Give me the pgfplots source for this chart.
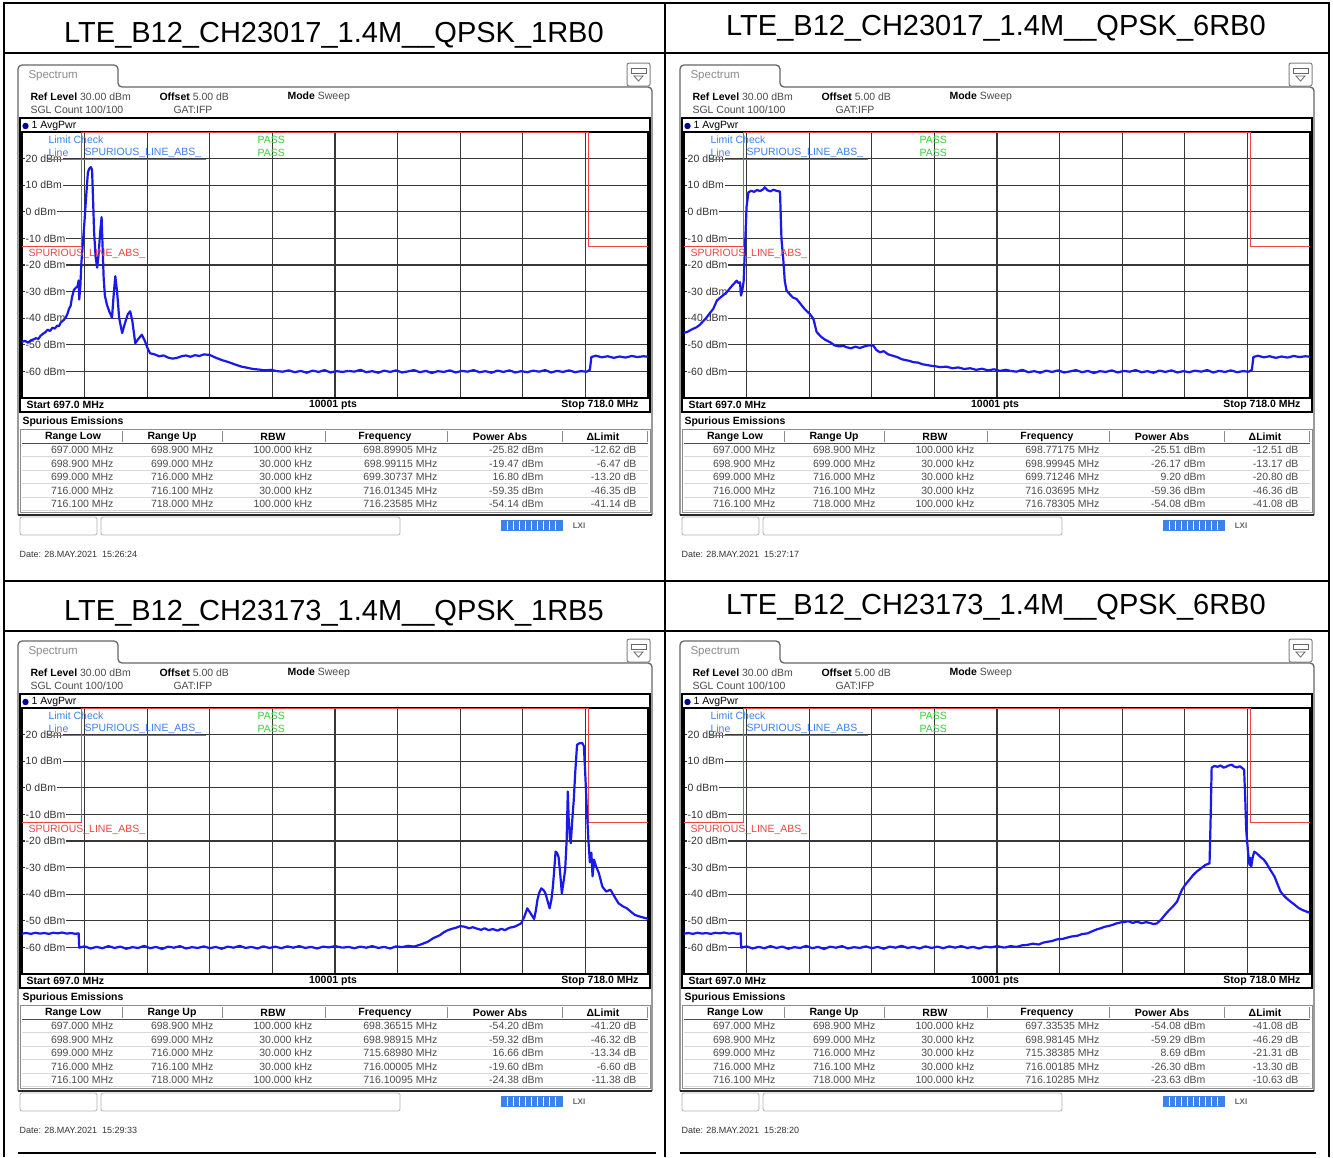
\documentclass[border=0pt]{standalone}
\usepackage{fontspec}
\setmainfont{Liberation Sans}
\usepackage{pgfplots}
\usepackage{pgfplotstable}
\pgfplotsset{compat=1.18}

\definecolor{trace}{RGB}{25,25,235}
\definecolor{lim}{RGB}{235,70,70}
\definecolor{lblue}{RGB}{60,130,235}
\definecolor{pgreen}{RGB}{60,205,60}
\definecolor{gridc}{RGB}{55,55,55}
\definecolor{txt}{RGB}{75,75,75}

\newcommand\ttl{\fontsize{29}{32}\selectfont}
\newcommand\sm{\fontsize{10.5}{12}\selectfont}
\newcommand\smb{\fontsize{10.5}{12}\selectfont\bfseries}
\newcommand\dt{\fontsize{9}{10}\selectfont}

\pgfplotstableread{
f p
697.00 -54.8
697.15 -54.6
697.30 -54.9
697.45 -54.5
697.60 -54.8
697.75 -54.6
697.90 -54.9
698.05 -54.5
698.20 -54.7
698.35 -54.4
698.50 -54.8
698.65 -54.6
698.80 -54.9
698.90 -54.7
698.92 -60.1
699.10 -59.6
699.30 -60.4
699.50 -59.8
699.70 -60.3
699.90 -59.5
700.10 -60.2
700.30 -59.7
700.50 -60.5
700.70 -59.9
700.90 -60.2
701.10 -59.4
701.30 -60.3
701.50 -59.8
701.70 -60.6
701.90 -59.7
702.10 -60.1
702.30 -59.5
702.50 -60.4
702.70 -59.9
702.90 -60.2
703.10 -59.6
703.30 -60.3
703.50 -59.8
703.70 -60.5
703.90 -59.7
704.10 -60.1
704.30 -59.4
704.50 -60.2
704.70 -59.8
704.90 -60.4
705.10 -59.6
705.30 -60.2
705.50 -59.7
705.70 -60.3
705.90 -59.6
706.10 -60.1
706.30 -59.5
706.50 -60.2
706.70 -59.8
706.90 -60.4
707.10 -59.7
707.30 -60.0
707.50 -59.5
707.75 -60.1
}\noiseLo

\pgfplotstableread{
f p
707.95 -59.8
708.15 -60.1
708.35 -59.4
708.55 -60.3
708.75 -59.9
708.95 -60.5
709.15 -59.7
709.35 -60.2
709.55 -59.6
709.75 -60.4
709.95 -60.0
710.15 -59.5
710.35 -60.3
710.55 -59.8
710.75 -60.6
710.95 -59.9
711.15 -60.2
711.35 -59.6
711.55 -60.4
711.75 -59.8
711.95 -60.1
712.15 -59.5
712.35 -60.3
712.55 -59.9
712.75 -60.5
712.95 -59.7
713.15 -60.2
713.35 -59.6
713.55 -60.4
713.75 -59.9
713.95 -60.3
714.15 -59.7
714.35 -60.1
714.55 -59.5
714.75 -60.4
714.95 -59.8
715.15 -60.2
715.35 -59.6
715.55 -60.3
715.75 -59.9
715.95 -60.1
716.05 -59.4
716.10 -54.6
716.25 -54.1
716.45 -54.7
716.65 -54.3
716.85 -54.9
717.05 -54.4
717.25 -54.8
717.45 -54.2
717.65 -54.6
717.85 -54.3
718.00 -54.5
}\noiseHi

\pgfplotsset{spec/.style={
  scale only axis, width=626pt, height=266pt, anchor=north west,
  xmin=697, xmax=718, ymin=-70, ymax=30,
  xtick={699.1,701.2,703.3,705.4,707.5,709.6,711.7,713.8,715.9},
  ytick={-60,-50,-40,-30,-20,-10,0,10,20},
  xticklabels={}, yticklabels={}, major tick length=0pt,
  grid=major, major grid style={gridc, line width=1.3pt},
  axis line style={black, line width=1.3pt},
}}
\pgfplotsset{tr/.style={trace, line width=2.2pt, line join=round, no markers}}

\newcommand\trow[7]{%
  \node[anchor=east,font=\sm,text=txt] at (117,#1) {#2};
  \node[anchor=east,font=\sm,text=txt] at (217,#1) {#3};
  \node[anchor=east,font=\sm,text=txt] at (316,#1) {#4};
  \node[anchor=east,font=\sm,text=txt] at (441,#1) {#5};
  \node[anchor=east,font=\sm,text=txt] at (547,#1) {#6};
  \node[anchor=east,font=\sm,text=txt] at (640,#1) {#7};
  \draw[black!15, line width=0.8pt] (22,#1+6.7) -- (648,#1+6.7);
}

\newcommand\panel[6]{%
\begin{scope}[shift={(#1,#2)}]
  \node[font=\ttl] at (334,#4) {#3};
  \draw[line width=1.3pt, black!60, rounded corners=4pt] (18,515) -- (18,65) -- (118,65) -- (118,87) -- (652,87) -- (652,515);
  \draw[line width=2.2pt, black!85] (18,515) -- (652,515);
  \draw[black!50, rounded corners=2pt, line width=1pt] (627,63) rectangle (650,86);
  \draw[black!60, line width=0.8pt] (631,68) rectangle (646,73);
  \draw[black!60, line width=0.8pt] (634,76) -- (643,76) -- (638.5,81) -- cycle;
  \node[anchor=west, font=\fontsize{11.5}{13}\selectfont, text=black!45] at (25,76) {Spectrum};
  \node[anchor=west, font=\sm] at (27,97) {\textbf{Ref Level} \textcolor{txt}{30.00 dBm}};
  \node[anchor=west, font=\sm] at (156,97) {\textbf{Offset} \textcolor{txt}{5.00 dB}};
  \node[anchor=west, font=\sm] at (284,97) {\textbf{Mode} \textcolor{txt}{Sweep}};
  \node[anchor=west, font=\sm, text=txt] at (27,110) {SGL Count 100/100};
  \node[anchor=west, font=\sm, text=txt] at (170,110) {GAT:IFP};
  \draw[line width=2pt] (20,118) rectangle (650,412);
  \fill[blue!60!black] (25.5,126) circle (3.2);
  \node[anchor=west, font=\sm] at (28,126) {1 AvgPwr};
  \node[anchor=west, font=\smb] at (23,405) {Start 697.0 MHz};
  \node[font=\smb] at (333,405) {10001 pts};
  \node[anchor=east, font=\smb] at (642,405) {Stop 718.0 MHz};
  \node[anchor=west, font=\smb] at (19,422) {Spurious Emissions};
  \draw[black!45, line width=1pt] (20,429) rectangle (650,512);
  \node[font=\smb] at (73,437) {Range Low};
  \node[font=\smb] at (172,437) {Range Up};
  \node[font=\smb] at (273,437) {RBW};
  \node[font=\smb] at (385,437) {Frequency};
  \node[font=\smb] at (500,437) {Power Abs};
  \node[font=\smb] at (603,437) {ΔLimit};
  \draw[black!70, line width=1.3pt] (22,443.5) -- (648,443.5);
  \foreach \xx in {122,222,325,447,562,647}{\draw[black!45, line width=0.8pt] (\xx,431) -- (\xx,442);}
  #6
  \draw[black!30, rounded corners=2pt, line width=0.8pt] (20,517) rectangle (97,535);
  \draw[black!30, rounded corners=2pt, line width=0.8pt] (101,517) rectangle (400,535);
  \fill[lblue] (501,520) rectangle (563,531);
  \foreach \xx in {507,513,...,559}{\draw[white, line width=0.7pt] (\xx,521) -- (\xx,530);}
  \node[font=\fontsize{8}{9}\selectfont\bfseries, text=black!60] at (579,526) {LXI};
  \node[anchor=west, font=\dt, text=black!80] at (16,554) {Date: 28.MAY.2021\ \ #5};
\end{scope}}

\newcommand\ovl[2]{%
\begin{scope}[shift={(#1,#2)}]
  \node[anchor=west,font=\sm,text=lblue] at (45,140) {Limit Check};
  \node[anchor=west,font=\sm,text=lblue] at (45,153) {Line};
  \node[anchor=west,font=\sm,text=lblue] at (81,153) {SPURIOUS\_LINE\_ABS\_};
  \draw[lblue, line width=0.8pt] (47,159.5) -- (206,159.5);
  \node[anchor=west,font=\sm,text=pgreen] at (254,140) {PASS};
  \node[anchor=west,font=\sm,text=pgreen] at (254,153) {PASS};
  \node[anchor=west,font=\sm,text=lim] at (25,254) {SPURIOUS\_LINE\_ABS\_};
\end{scope}}

\begin{document}
\begin{tikzpicture}[x=1pt,y=-1pt]
\useasboundingbox (0,0) rectangle (1333,1157);
\fill[white] (0,0) rectangle (1333,1157);

% outer table lines
\draw[line width=2pt] (3,3) -- (1330,3);
\draw[line width=2pt] (3,53) -- (1330,53);
\draw[line width=2pt] (3,581) -- (1330,581);
\draw[line width=2pt] (3,631) -- (1330,631);
\draw[line width=2pt] (4,3) -- (4,1157);
\draw[line width=2pt] (665,3) -- (665,1157);
\draw[line width=2pt] (1329,3) -- (1329,1157);
\draw[line width=2pt] (18,1153) -- (656,1153);
\draw[line width=2pt] (680,1153) -- (1316,1153);

\panel{0}{0}{LTE\_B12\_CH23017\_1.4M\_\_QPSK\_1RB0}{35}{15:26:24}{%
  \trow{450}{697.000 MHz}{698.900 MHz}{100.000 kHz}{698.89905 MHz}{-25.82 dBm}{-12.62 dB}
  \trow{464}{698.900 MHz}{699.000 MHz}{30.000 kHz}{698.99115 MHz}{-19.47 dBm}{-6.47 dB}
  \trow{477}{699.000 MHz}{716.000 MHz}{30.000 kHz}{699.30737 MHz}{16.80 dBm}{-13.20 dB}
  \trow{491}{716.000 MHz}{716.100 MHz}{30.000 kHz}{716.01345 MHz}{-59.35 dBm}{-46.35 dB}
  \trow{504}{716.100 MHz}{718.000 MHz}{100.000 kHz}{716.23585 MHz}{-54.14 dBm}{-41.14 dB}}
\panel{662}{0}{LTE\_B12\_CH23017\_1.4M\_\_QPSK\_6RB0}{28}{15:27:17}{%
  \trow{450}{697.000 MHz}{698.900 MHz}{100.000 kHz}{698.77175 MHz}{-25.51 dBm}{-12.51 dB}
  \trow{464}{698.900 MHz}{699.000 MHz}{30.000 kHz}{698.99945 MHz}{-26.17 dBm}{-13.17 dB}
  \trow{477}{699.000 MHz}{716.000 MHz}{30.000 kHz}{699.71246 MHz}{9.20 dBm}{-20.80 dB}
  \trow{491}{716.000 MHz}{716.100 MHz}{30.000 kHz}{716.03695 MHz}{-59.36 dBm}{-46.36 dB}
  \trow{504}{716.100 MHz}{718.000 MHz}{100.000 kHz}{716.78305 MHz}{-54.08 dBm}{-41.08 dB}}
\panel{0}{576}{LTE\_B12\_CH23173\_1.4M\_\_QPSK\_1RB5}{37}{15:29:33}{%
  \trow{450}{697.000 MHz}{698.900 MHz}{100.000 kHz}{698.36515 MHz}{-54.20 dBm}{-41.20 dB}
  \trow{464}{698.900 MHz}{699.000 MHz}{30.000 kHz}{698.98915 MHz}{-59.32 dBm}{-46.32 dB}
  \trow{477}{699.000 MHz}{716.000 MHz}{30.000 kHz}{715.68980 MHz}{16.66 dBm}{-13.34 dB}
  \trow{491}{716.000 MHz}{716.100 MHz}{30.000 kHz}{716.00005 MHz}{-19.60 dBm}{-6.60 dB}
  \trow{504}{716.100 MHz}{718.000 MHz}{100.000 kHz}{716.10095 MHz}{-24.38 dBm}{-11.38 dB}}
\panel{662}{576}{LTE\_B12\_CH23173\_1.4M\_\_QPSK\_6RB0}{31}{15:28:20}{%
  \trow{450}{697.000 MHz}{698.900 MHz}{100.000 kHz}{697.33535 MHz}{-54.08 dBm}{-41.08 dB}
  \trow{464}{698.900 MHz}{699.000 MHz}{30.000 kHz}{698.98145 MHz}{-59.29 dBm}{-46.29 dB}
  \trow{477}{699.000 MHz}{716.000 MHz}{30.000 kHz}{715.38385 MHz}{8.69 dBm}{-21.31 dB}
  \trow{491}{716.000 MHz}{716.100 MHz}{30.000 kHz}{716.00185 MHz}{-26.30 dBm}{-13.30 dB}
  \trow{504}{716.100 MHz}{718.000 MHz}{100.000 kHz}{716.10285 MHz}{-23.63 dBm}{-10.63 dB}}

% ---------- top-left: 1RB0 ----------
\begin{axis}[spec, at={(22pt,-132pt)}]
\addplot[lim, line width=1.3pt] coordinates {(697,-13) (699,-13) (699,30) (716,30) (716,-13) (718,-13)};
\pgfplotsinvokeforeach{20,10,0,-10,-20,-30,-40,-50,-60}{\node[anchor=west,font=\sm,fill=white,inner sep=0.8pt,text=black!80] at (axis cs:697.09,#1) {#1 dBm};}
\addplot[tr] coordinates {
(697.00,-48.9) (697.10,-48.5) (697.20,-49.2) (697.30,-48.3) (697.40,-47.9) (697.47,-47.5) (697.55,-47.8) (697.62,-46.6) (697.70,-45.9) (697.78,-45.3) (697.86,-44.3) (697.94,-44.8) (698.02,-43.6) (698.10,-43.9) (698.18,-42.8) (698.24,-43.0) (698.30,-41.6) (698.38,-40.9) (698.47,-39.7) (698.53,-38.2) (698.58,-36.4) (698.63,-35.4) (698.68,-32.0) (698.74,-29.4) (698.80,-28.6) (698.86,-28.1) (698.90,-25.8) (698.92,-33.0) (698.96,-27.5) (698.99,-19.5) (699.04,-12.0) (699.10,-3.0) (699.16,7.0) (699.21,14.8) (699.26,16.3) (699.31,16.8) (699.35,15.8) (699.38,6.0) (699.42,-8.0) (699.47,-17.0) (699.52,-21.0) (699.57,-16.0) (699.62,-8.0) (699.67,-2.0) (699.70,-12.0) (699.74,-25.0) (699.78,-31.5) (699.85,-35.0) (699.93,-37.5) (700.02,-39.8) (700.07,-32.0) (700.13,-24.2) (700.19,-30.0) (700.26,-40.0) (700.36,-45.6) (700.45,-42.0) (700.55,-38.5) (700.63,-37.4) (700.70,-41.0) (700.80,-49.4) (700.90,-47.8) (701.02,-46.2) (701.12,-48.5) (701.22,-51.5) (701.30,-53.2) (701.45,-53.6) (701.60,-54.3) (701.75,-54.0) (701.90,-54.8) (702.05,-55.2) (702.20,-54.9) (702.35,-54.3) (702.50,-54.0) (702.65,-54.5) (702.80,-53.9) (702.95,-54.2) (703.10,-53.6) (703.30,-53.8) (703.45,-54.6) (703.60,-55.3) (703.75,-55.9) (703.90,-56.4) (704.05,-57.0) (704.20,-57.6) (704.36,-58.2) (704.55,-58.6) (704.75,-59.1) (704.95,-59.3) (705.15,-59.6) (705.35,-59.4) (705.55,-59.9) (705.75,-60.1) (705.95,-59.6) (706.15,-60.3) (706.35,-59.8) (706.55,-60.5) (706.75,-59.7) (706.95,-60.2) (707.15,-59.5) (707.35,-60.4) (707.55,-59.9) (707.75,-60.2) (707.95,-59.8)};
\addplot[tr] table[x=f,y=p] {\noiseHi};
\end{axis}

% ---------- top-right: 6RB0 ----------
\begin{axis}[spec, at={(684pt,-132pt)}]
\addplot[lim, line width=1.3pt] coordinates {(697,-13) (699,-13) (699,30) (716,30) (716,-13) (718,-13)};
\pgfplotsinvokeforeach{20,10,0,-10,-20,-30,-40,-50,-60}{\node[anchor=west,font=\sm,fill=white,inner sep=0.8pt,text=black!80] at (axis cs:697.09,#1) {#1 dBm};}
\addplot[tr] coordinates {
(697.00,-45.5) (697.10,-45.2) (697.20,-44.6) (697.30,-44.0) (697.42,-43.4) (697.52,-42.6) (697.62,-41.4) (697.72,-40.2) (697.82,-38.8) (697.90,-37.6) (697.98,-36.5) (698.04,-35.0) (698.10,-33.4) (698.20,-32.4) (698.30,-31.5) (698.43,-30.3) (698.55,-28.6) (698.65,-27.3) (698.77,-25.9) (698.83,-26.8) (698.88,-26.5) (698.91,-31.5) (698.95,-30.0) (699.00,-26.2) (699.05,-12.0) (699.10,2.0) (699.16,7.3) (699.25,7.9) (699.35,7.5) (699.45,8.2) (699.55,7.8) (699.65,8.4) (699.71,9.2) (699.80,8.1) (699.90,7.7) (700.00,8.3) (700.10,7.9) (700.22,7.6) (700.27,-10.3) (700.33,-17.8) (700.38,-26.0) (700.44,-29.6) (700.55,-31.0) (700.65,-32.2) (700.78,-32.8) (700.90,-34.5) (701.05,-36.6) (701.22,-38.4) (701.34,-40.2) (701.45,-45.2) (701.60,-47.0) (701.75,-48.2) (701.90,-49.0) (702.05,-50.2) (702.20,-50.6) (702.35,-50.4) (702.45,-50.9) (702.60,-51.3) (702.75,-50.7) (702.90,-51.2) (703.05,-50.6) (703.20,-50.2) (703.35,-50.3) (703.45,-51.9) (703.57,-52.8) (703.70,-52.4) (703.85,-53.6) (704.00,-54.1) (704.15,-54.6) (704.30,-55.4) (704.45,-55.8) (704.55,-56.0) (704.69,-56.5) (704.85,-56.7) (705.00,-57.3) (705.15,-57.6) (705.30,-57.9) (705.45,-58.1) (705.60,-58.4) (705.80,-58.2) (706.00,-58.8) (706.20,-58.5) (706.40,-59.1) (706.60,-58.8) (706.80,-59.4) (707.00,-59.0) (707.20,-59.6) (707.40,-59.2) (707.60,-59.8) (707.80,-59.4) (707.95,-59.8)};
\addplot[tr] table[x=f,y=p] {\noiseHi};
\end{axis}

% ---------- bottom-left: 1RB5 ----------
\begin{axis}[spec, at={(22pt,-708pt)}]
\addplot[lim, line width=1.3pt] coordinates {(697,-13) (699,-13) (699,30) (716,30) (716,-13) (718,-13)};
\pgfplotsinvokeforeach{20,10,0,-10,-20,-30,-40,-50,-60}{\node[anchor=west,font=\sm,fill=white,inner sep=0.8pt,text=black!80] at (axis cs:697.09,#1) {#1 dBm};}
\addplot[tr] table[x=f,y=p] {\noiseLo};
\addplot[tr] coordinates {
(707.75,-60.1) (707.95,-59.8) (708.15,-60.3) (708.35,-59.7) (708.55,-60.1) (708.75,-59.5) (708.95,-60.2) (709.15,-59.8) (709.35,-60.4) (709.55,-59.6) (709.75,-59.9) (709.95,-59.4) (710.15,-59.7) (710.35,-59.0) (710.61,-57.9) (710.80,-56.5) (711.02,-55.4) (711.15,-54.3) (711.29,-53.5) (711.42,-53.0) (711.56,-52.6) (711.70,-52.0) (711.84,-52.2) (712.00,-52.8) (712.12,-52.4) (712.25,-52.9) (712.40,-53.4) (712.52,-52.8) (712.65,-53.5) (712.80,-53.1) (712.95,-53.7) (713.08,-53.0) (713.20,-53.5) (713.35,-52.6) (713.50,-52.3) (713.60,-51.8) (713.74,-51.0) (713.85,-48.5) (713.95,-45.3) (714.05,-47.0) (714.18,-49.3) (714.24,-46.0) (714.29,-42.2) (714.35,-39.5) (714.42,-37.8) (714.50,-38.5) (714.56,-39.7) (714.63,-42.5) (714.70,-45.3) (714.76,-42.0) (714.81,-37.1) (714.86,-30.0) (714.90,-24.0) (714.95,-24.5) (715.00,-26.0) (715.06,-33.0) (715.11,-39.7) (715.17,-35.0) (715.22,-30.9) (715.27,-20.0) (715.31,-1.4) (715.34,-12.0) (715.38,-19.0) (715.41,-20.8) (715.46,-12.0) (715.51,-4.5) (715.56,6.0) (715.62,16.2) (715.69,16.7) (715.79,16.9) (715.85,15.6) (715.90,4.0) (715.94,-6.0) (716.00,-19.6) (716.05,-28.0) (716.10,-24.4) (716.14,-33.3) (716.19,-27.0) (716.26,-29.6) (716.35,-32.0) (716.47,-37.2) (716.60,-39.0) (716.74,-38.3) (716.88,-41.0) (717.01,-43.4) (717.15,-44.5) (717.29,-45.3) (717.42,-46.5) (717.56,-47.8) (717.70,-48.3) (717.85,-48.8) (718.00,-49.2)};
\end{axis}

% ---------- bottom-right: 6RB0 ----------
\begin{axis}[spec, at={(684pt,-708pt)}]
\addplot[lim, line width=1.3pt] coordinates {(697,-13) (699,-13) (699,30) (716,30) (716,-13) (718,-13)};
\pgfplotsinvokeforeach{20,10,0,-10,-20,-30,-40,-50,-60}{\node[anchor=west,font=\sm,fill=white,inner sep=0.8pt,text=black!80] at (axis cs:697.09,#1) {#1 dBm};}
\addplot[tr] table[x=f,y=p] {\noiseLo};
\addplot[tr] coordinates {
(707.75,-60.1) (707.95,-59.5) (708.15,-59.8) (708.35,-59.2) (708.50,-59.1) (708.70,-58.6) (708.90,-58.9) (709.05,-58.2) (709.18,-57.9) (709.35,-57.6) (709.50,-57.0) (709.70,-56.8) (709.86,-56.3) (710.00,-55.9) (710.20,-55.6) (710.35,-55.0) (710.54,-54.7) (710.70,-53.9) (710.85,-53.2) (710.95,-52.9) (711.10,-52.3) (711.25,-51.9) (711.36,-51.6) (711.50,-51.0) (711.65,-50.6) (711.80,-50.4) (711.90,-50.1) (712.05,-50.8) (712.20,-50.3) (712.35,-50.9) (712.50,-50.5) (712.59,-50.7) (712.75,-51.2) (712.86,-51.0) (713.00,-49.6) (713.13,-47.8) (713.25,-46.3) (713.40,-44.6) (713.54,-42.8) (713.62,-40.5) (713.70,-38.4) (713.81,-36.5) (713.95,-34.6) (714.08,-32.8) (714.20,-31.5) (714.35,-30.2) (714.49,-29.0) (714.63,-28.4) (714.67,-10.0) (714.70,7.6) (714.80,8.2) (714.90,7.9) (715.00,8.4) (715.10,7.6) (715.17,7.8) (715.25,8.3) (715.38,8.7) (715.45,8.0) (715.55,7.7) (715.65,8.1) (715.75,7.2) (715.79,6.8) (715.83,-5.0) (715.86,-15.8) (715.92,-24.0) (715.97,-29.0) (716.00,-26.3) (716.03,-29.6) (716.08,-26.0) (716.13,-24.0) (716.20,-24.5) (716.33,-25.9) (716.45,-27.0) (716.54,-28.4) (716.65,-30.5) (716.81,-33.4) (716.92,-36.5) (717.01,-39.0) (717.12,-40.5) (717.22,-41.6) (717.35,-42.8) (717.49,-44.0) (717.62,-45.2) (717.76,-46.0) (717.90,-46.6) (718.00,-47.0)};
\end{axis}

\ovl{0}{0}
\ovl{662}{0}
\ovl{0}{576}
\ovl{662}{576}
\end{tikzpicture}
\end{document}
